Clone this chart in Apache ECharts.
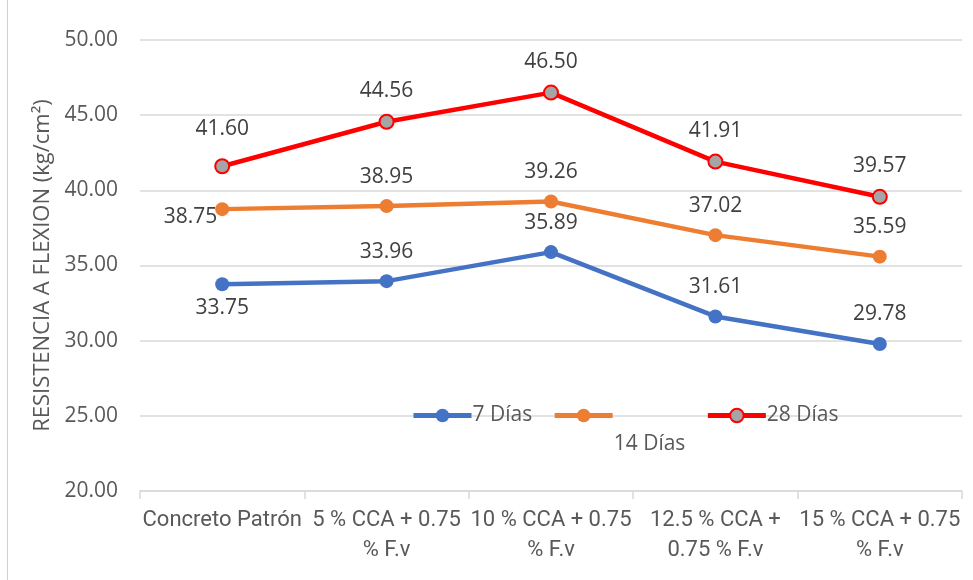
<!DOCTYPE html>
<html><head><meta charset="utf-8">
<script src="https://cdn.jsdelivr.net/npm/echarts@6/dist/echarts.min.js"></script>
<style>html,body{margin:0;padding:0;background:#fff}#c{width:973px;height:580px}</style>
</head><body><div id="c"></div>
<script>
const categories = ['Concreto Patrón', '5 % CCA + 0.75\n% F.v', '10 % CCA + 0.75\n% F.v', '12.5 % CCA +\n0.75 % F.v', '15 % CCA + 0.75\n% F.v'];
const dias7 = [33.75, 33.96, 35.89, 31.61, 29.78];
const dias14 = [38.75, 38.95, 39.26, 37.02, 35.59];
const dias28 = [41.60, 44.56, 46.50, 41.91, 39.57];
const yTicks = { min: 20, max: 50, interval: 5 };

const FONT = '"Open Sans", "Noto Sans", sans-serif';
const lblBase = { show: true, position: 'top', distance: 12, fontSize: 21, color: '#404040', fontFamily: FONT, formatter: p => p.value.toFixed(2) };

function pts(arr, overrides) {
  return arr.map((v, i) => overrides && overrides[i] ? { value: v, label: overrides[i] } : v);
}

const chart = echarts.init(document.getElementById('c'));
chart.setOption({
  animation: false,
  grid: { left: 140, right: 11, top: 40, bottom: 89 },
  graphic: [{ type: 'rect', shape: { x: 7, y: 0, width: 1, height: 580 }, style: { fill: '#d0d0d0' } }],
  legend: {
    left: 406, top: 400, itemWidth: 58, itemHeight: 17, itemGap: 20,
    lineStyle: { width: 5 },
    textStyle: { fontSize: 21, color: '#595959', fontFamily: FONT, padding: [0, 0, 0, -4] },
    formatter: n => n === '14 Días' ? '{b|14 Días}' : n,
    data: ['7 Días', '14 Días', '28 Días'],
    selectedMode: false
  },
  xAxis: {
    type: 'category', data: categories, boundaryGap: true,
    axisLine: { lineStyle: { color: '#d9d9d9', width: 1.5 } },
    axisTick: { show: true, length: 8, lineStyle: { color: '#d9d9d9', width: 1.5 } },
    axisLabel: { fontSize: 22, color: '#595959', fontFamily: '"Liberation Sans Narrow", "Roboto", sans-serif', lineHeight: 30, margin: 14, interval: 0 }
  },
  yAxis: {
    type: 'value', min: yTicks.min, max: yTicks.max, interval: yTicks.interval,
    name: 'RESISTENCIA A FLEXION (kg/cm²)', nameLocation: 'middle', nameGap: 84,
    nameTextStyle: { fontSize: 22, color: '#595959', fontFamily: FONT },
    axisLine: { show: false }, axisTick: { show: false },
    axisLabel: { fontSize: 21, color: '#595959', fontFamily: FONT, margin: 22, formatter: v => v.toFixed(2) },
    splitLine: { lineStyle: { color: '#d9d9d9', width: 1.5 } }
  },
  series: [
    { name: '7 Días', type: 'line', data: pts(dias7, { 0: { position: 'bottom', distance: 6 } }), color: '#4472C4',
      symbol: 'circle', symbolSize: 14, lineStyle: { width: 4.5, color: '#4472C4' }, itemStyle: { color: '#4472C4' }, label: lblBase, z: 3 },
    { name: '14 Días', type: 'line', data: pts(dias14, { 0: { position: 'left', distance: -2, offset: [0, 8] } }), color: '#ED7D31',
      symbol: 'circle', symbolSize: 14, lineStyle: { width: 4.5, color: '#ED7D31' }, itemStyle: { color: '#ED7D31' }, label: lblBase, z: 3 },
    { name: '28 Días', type: 'line', data: pts(dias28, { 0: { distance: 19 } }), color: '#FF0000',
      symbol: 'circle', symbolSize: 14, lineStyle: { width: 4.5, color: '#FF0000' }, itemStyle: { color: '#A5A5A5', borderColor: '#FF0000', borderWidth: 2 }, label: lblBase, z: 3 }
  ]
});
chart.setOption({ legend: { textStyle: { rich: { b: { fontSize: 21, color: '#595959', fontFamily: FONT, padding: [58, 0, 0, 0] } } } } });
</script></body></html>
